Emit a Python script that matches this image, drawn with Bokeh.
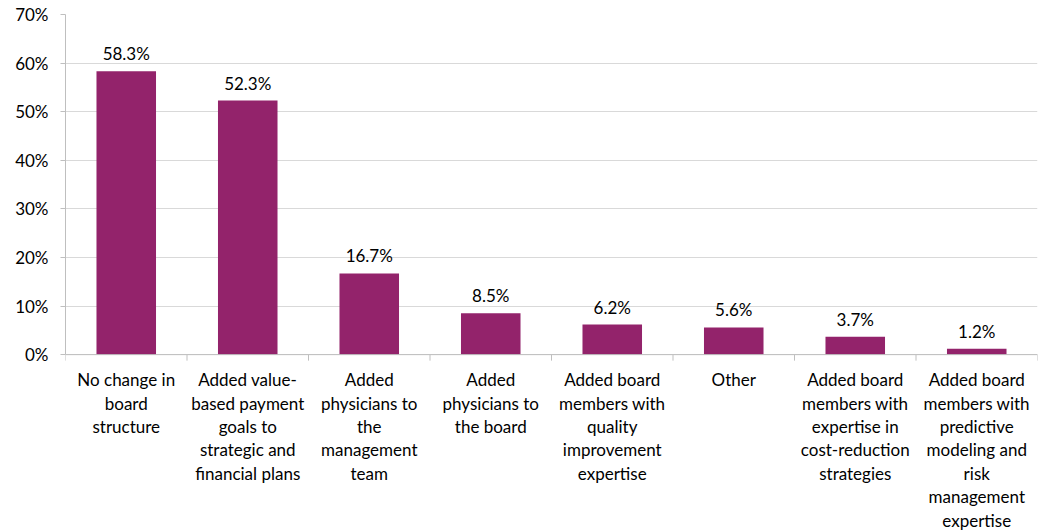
import math
from bokeh.plotting import figure
from bokeh.models import ColumnDataSource, FixedTicker, PrintfTickFormatter, Range1d, LabelSet, Span
from bokeh.core.properties import value
from bokeh.embed import file_html
from bokeh.resources import INLINE

categories = [
    "No change in\nboard\nstructure",
    "Added value-\nbased payment\ngoals to\nstrategic and\nfinancial plans",
    "Added\nphysicians to\nthe\nmanagement\nteam",
    "Added\nphysicians to\nthe board",
    "Added board\nmembers with\nquality\nimprovement\nexpertise",
    "Other",
    "Added board\nmembers with\nexpertise in\ncost-reduction\nstrategies",
    "Added board\nmembers with\npredictive\nmodeling and\nrisk\nmanagement\nexpertise",
]
values = [58.3, 52.3, 16.7, 8.5, 6.2, 5.6, 3.7, 1.2]
value_labels = ["58.3%", "52.3%", "16.7%", "8.5%", "6.2%", "5.6%", "3.7%", "1.2%"]
y_ticks = [0, 10, 20, 30, 40, 50, 60, 70]

FONT = "Lato"
BAR = "#93236b"
AXIS = "#bfbfbf"
LINE_H = 23.4

n = len(categories)
xs = [i + 0.5 for i in range(n)]
src = ColumnDataSource(dict(x=xs, top=values, lab=value_labels))

# frame extends below zero so the category labels can live inside it
p = figure(width=1049, height=531, output_backend="svg", toolbar_location=None,
           x_range=Range1d(0, n), y_range=Range1d(-36.4, 70),
           min_border_left=65, min_border_right=12, min_border_top=14, min_border_bottom=0)
p.outline_line_color = None
p.background_fill_color = "white"
p.border_fill_color = "white"

p.ygrid.grid_line_color = "#d9d9d9"
p.ygrid.ticker = FixedTicker(ticks=y_ticks)
p.xgrid.grid_line_color = None

p.vbar(x="x", top="top", width=0.49, source=src, fill_color=BAR, line_color=None)

labels = LabelSet(x="x", y="top", text="lab", source=src, text_align="center",
                  text_baseline="bottom", y_offset=7, text_font=value(FONT),
                  text_font_size="17px", text_color="#000000")
p.add_layout(labels)

# category axis: baseline, boundary ticks, multi-line labels
p.add_layout(Span(location=0, dimension="width", line_color=AXIS, line_width=1))
bounds = list(range(n + 1))
p.ray(x=bounds, y=[0] * len(bounds), length=6, length_units="screen",
      angle=-math.pi / 2, line_color=AXIS, line_width=1)

cx, cy, ct, coff = [], [], [], []
for x, c in zip(xs, categories):
    for i, line in enumerate(c.split("\n")):
        cx.append(x)
        cy.append(0)
        ct.append(line)
        coff.append(-(25 + i * LINE_H))
csrc = ColumnDataSource(dict(x=cx, y=cy, t=ct, off=coff))
cat_labels = LabelSet(x="x", y="y", text="t", y_offset="off", source=csrc,
                      text_align="center", text_baseline="middle",
                      text_font=value(FONT), text_font_size="17px", text_color="#000000")
p.add_layout(cat_labels)

p.xaxis.visible = False

# y axis
p.yaxis.ticker = FixedTicker(ticks=y_ticks)
p.yaxis.bounds = (0, 70)
p.yaxis.formatter = PrintfTickFormatter(format="%d%%")
p.yaxis.axis_line_color = AXIS
p.yaxis.major_tick_line_color = AXIS
p.yaxis.major_tick_out = 5
p.yaxis.major_tick_in = 0
p.yaxis.minor_tick_line_color = None
p.yaxis.major_label_text_font = FONT
p.yaxis.major_label_text_font_size = "17px"
p.yaxis.major_label_text_color = "#000000"
p.yaxis.major_label_standoff = 12

open("out.html", "w").write(file_html(p, INLINE))
